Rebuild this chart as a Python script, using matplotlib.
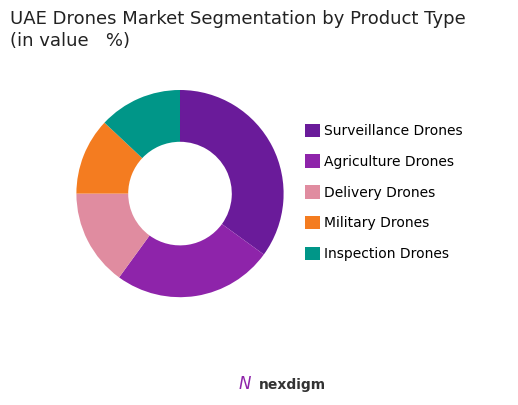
import matplotlib.pyplot as plt

labels = ["Surveillance Drones", "Agriculture Drones", "Delivery Drones", "Military Drones", "Inspection Drones"]
values = [35, 25, 15, 12, 13]
colors = ["#6A1B9A", "#8E24AA", "#E08CA0", "#F47C20", "#009688"]

fig = plt.figure(figsize=(5.18, 4.05), dpi=100)
ax = fig.add_axes([0.0975, 0.172, 0.5, 0.7])
wedges, _ = ax.pie(values, colors=colors, startangle=90, counterclock=False,
                   wedgeprops=dict(width=0.5, edgecolor="none"))
ax.set_aspect("equal")
fig.text(0.02, 0.975, "UAE Drones Market Segmentation by Product Type\n(in value   %)",
         fontsize=13, va="top", ha="left", color="#222222", linespacing=1.3)
fig.legend(wedges, labels, loc="center left", bbox_to_anchor=(0.565, 0.525),
           frameon=False, fontsize=10, handlelength=1.1, handleheight=1.1,
           labelspacing=1.18, handletextpad=0.25)
fig.text(0.5, 0.04, "nexdigm", fontsize=10, color="#333333", ha="left", fontweight="bold")
fig.text(0.46, 0.04, "N", fontsize=12, color="#8E24AA", ha="left", style="italic")
fig.savefig("out.png", dpi=100)
